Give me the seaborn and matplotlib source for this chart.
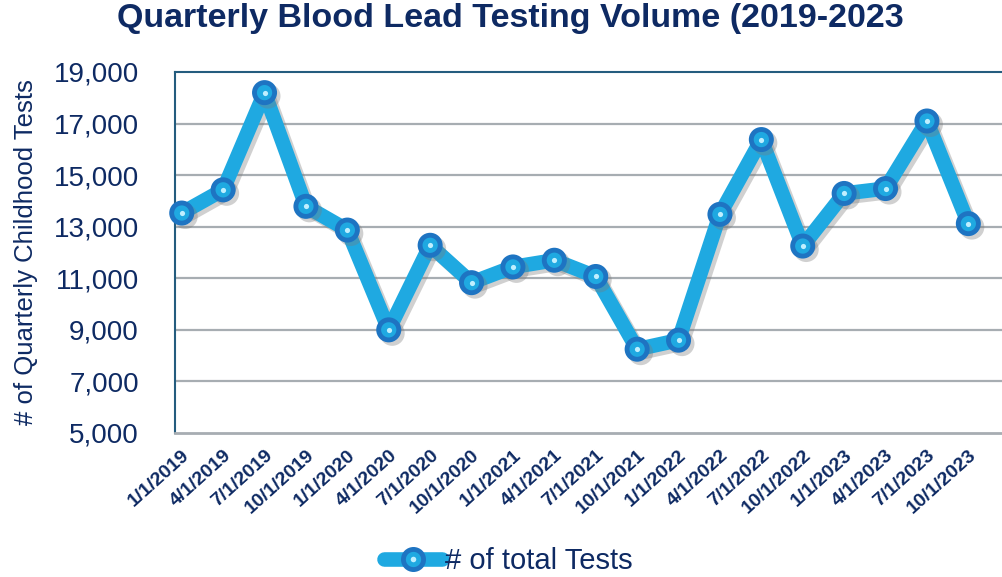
import numpy as np
import pandas as pd
import matplotlib
matplotlib.use("Agg")
import matplotlib.pyplot as plt
import matplotlib.patheffects as pe
from matplotlib.lines import Line2D
from matplotlib.legend_handler import HandlerTuple
import seaborn as sns

# ---- data ----
quarters = ["1/1/2019", "4/1/2019", "7/1/2019", "10/1/2019",
            "1/1/2020", "4/1/2020", "7/1/2020", "10/1/2020",
            "1/1/2021", "4/1/2021", "7/1/2021", "10/1/2021",
            "1/1/2022", "4/1/2022", "7/1/2022", "10/1/2022",
            "1/1/2023", "4/1/2023", "7/1/2023", "10/1/2023"]
tests = [13530, 14430, 18200, 13790,
         12870, 9000, 12280, 10830,
         11440, 11700, 11070, 8250,
         8600, 13480, 16380, 12250,
         14290, 14480, 17100, 13120]
y_ticks = [5000, 7000, 9000, 11000, 13000, 15000, 17000, 19000]
title = "Quarterly Blood Lead Testing Volume (2019-2023"
y_label = "# of Quarterly Childhood Tests"
series_name = "# of total Tests"

# ---- style ----
NAVY = "#0E2A63"
LINE = "#1FA9E1"
RING = "#1E74C2"
DOT = "#BFEFFF"
GRID = "#A7ADB2"
SPINE = "#245C7E"

sns.set_style("white")
plt.rcParams["font.family"] = ["Liberation Sans", "DejaVu Sans"]

W, H = 1003, 577
fig = plt.figure(figsize=(W / 100, H / 100), dpi=100)
ax = fig.add_axes([175 / W, 1 - 433 / H, 1 - 175 / W, (433 - 72) / H])

df = pd.DataFrame({"idx": np.arange(len(quarters)), "tests": tests})

shadow = [pe.SimpleLineShadow(offset=(2.5, -2.5), shadow_color="#7a7a7a", alpha=0.35),
          pe.Normal()]
sns.lineplot(data=df, x="idx", y="tests", ax=ax, color=LINE, linewidth=10.5,
             marker="o", markersize=14.5, markeredgewidth=3.5,
             markeredgecolor=RING, markerfacecolor=LINE,
             path_effects=shadow, legend=False, zorder=3, clip_on=False)
ax.scatter(df["idx"], df["tests"], s=14, color=DOT, zorder=4, clip_on=False,
           linewidths=0)

off = 7 / 43.0
ax.set_xlim(-off, (W - 175) / 43.0 - off)
ax.set_ylim(5000, 19000)
ax.set_yticks(y_ticks)
ax.set_yticklabels([f"{v:,}" for v in y_ticks], fontsize=20, color=NAVY)
ax.tick_params(axis="y", length=0, pad=26)

ax.set_xticks(df["idx"])
ax.set_xticklabels(quarters, rotation=42, ha="right", rotation_mode="anchor",
                   fontsize=14, fontweight="bold", color=NAVY)
ax.tick_params(axis="x", which="major", length=0, pad=10)
ax.set_xticks(np.arange(len(quarters) + 1) - off, minor=True)
ax.tick_params(axis="x", which="minor", direction="inout", length=9.5,
               width=1.5, color=GRID)

ax.set_ylabel(y_label, fontsize=18.5, color=NAVY, labelpad=11)
ax.set_xlabel("")

for v in y_ticks[1:-1]:
    ax.axhline(v, color=GRID, linewidth=1.6, zorder=1)

for s in ["left", "top"]:
    ax.spines[s].set_color(SPINE)
    ax.spines[s].set_linewidth(1.5)
ax.spines["bottom"].set_color(GRID)
ax.spines["bottom"].set_linewidth(2)
ax.spines["right"].set_visible(False)

fig.text(510 / W, 1 - 19 / H, title, ha="center", va="center",
         fontsize=24.5, fontweight="bold", color=NAVY)

h_line = Line2D([], [], color=LINE, linewidth=10.5, marker="o", markersize=14.5,
                markeredgewidth=3.5, markeredgecolor=RING, markerfacecolor=LINE)
h_dot = Line2D([], [], linestyle="none", marker="o", markersize=4,
               markerfacecolor=DOT, markeredgewidth=0)
leg = fig.legend([(h_line, h_dot)], [series_name], loc="center",
                 bbox_to_anchor=(508 / W, 1 - 561 / H), frameon=False,
                 fontsize=21, handlelength=2.0, handletextpad=0.1,
                 handler_map={tuple: HandlerTuple(ndivide=1)})
for t in leg.get_texts():
    t.set_color(NAVY)

fig.savefig("out.png", dpi=100)
